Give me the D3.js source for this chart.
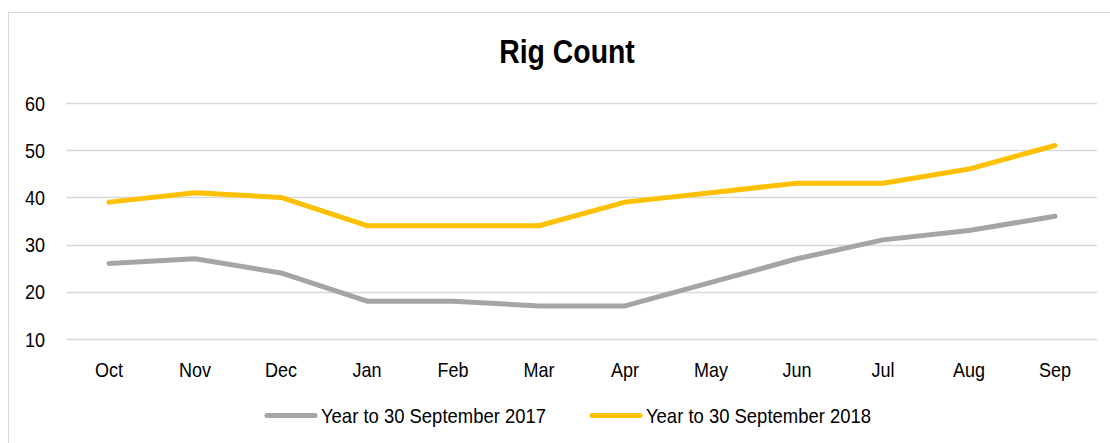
<!DOCTYPE html>
<html lang="en">
<head>
    <meta charset="UTF-8">
    <title>Rig Count</title>
    <style>
        body {
            margin: 0;
            background: #ffffff;
            font-family: 'Liberation Sans', Arial, sans-serif;
        }
        svg text {
            fill: #000;
        }
    </style>
</head>
<body>
    <div id="chart"></div>

    <script src="https://d3js.org/d3.v7.min.js"></script>
    <script>
        // Chart data
        const months = ['Oct', 'Nov', 'Dec', 'Jan', 'Feb', 'Mar', 'Apr', 'May', 'Jun', 'Jul', 'Aug', 'Sep'];
        const rigs2017 = [26, 27, 24, 18, 18, 17, 17, 22, 27, 31, 33, 36];
        const rigs2018 = [39, 41, 40, 34, 34, 34, 39, 41, 43, 43, 46, 51];
        const yTicks = [10, 20, 30, 40, 50, 60];
        const seriesNames = ['Year to 30 September 2017', 'Year to 30 September 2018'];

        const width = 1110;
        const height = 443;
        const colors = ['#a5a5a5', '#ffc000'];
        // text in the original looks horizontally squeezed
        const squeeze = 0.9;

        const svg = d3.select('#chart')
            .append('svg')
            .attr('width', width)
            .attr('height', height);

        // Chart area border
        svg.append('rect')
            .attr('x', 8.5)
            .attr('y', 12.5)
            .attr('width', width)
            .attr('height', height)
            .attr('fill', 'none')
            .attr('stroke', '#d9d9d9')
            .attr('stroke-width', 1);

        function label(x, y, str, size, anchor, bold, sx) {
            return svg.append('text')
                .attr('transform', `translate(${x},${y}) scale(${sx || squeeze},1)`)
                .attr('text-anchor', anchor)
                .attr('font-size', size + 'px')
                .attr('font-weight', bold ? 'bold' : 'normal')
                .text(str);
        }

        // Title
        label(567, 63, 'Rig Count', 33, 'middle', true, 0.86);

        // Scales
        const x = d3.scaleBand()
            .domain(months)
            .range([66, 1098])
            .padding(0);

        const y = d3.scaleLinear()
            .domain([10, 60])
            .range([339, 103]);

        const cx = m => x(m) + x.bandwidth() / 2;

        // Gridlines
        svg.append('g')
            .selectAll('line')
            .data(yTicks)
            .enter()
            .append('line')
            .attr('x1', 66)
            .attr('x2', 1097)
            .attr('y1', d => Math.round(y(d)) + 0.5)
            .attr('y2', d => Math.round(y(d)) + 0.5)
            .attr('stroke', '#d9d9d9')
            .attr('stroke-width', 1.5);

        // Y tick labels
        yTicks.forEach(t => label(45, y(t) + 7.5, t, 20, 'end'));

        // X labels
        months.forEach(m => label(cx(m), 377, m, 20, 'middle'));

        // Lines
        const line = d3.line()
            .x((d, i) => cx(months[i]))
            .y(d => y(d));

        [rigs2017, rigs2018].forEach((vals, i) => {
            svg.append('path')
                .datum(vals)
                .attr('d', line)
                .attr('fill', 'none')
                .attr('stroke', colors[i])
                .attr('stroke-width', 5)
                .attr('stroke-linejoin', 'round')
                .attr('stroke-linecap', 'round');
        });

        // Legend
        const legendX = [267, 592];
        seriesNames.forEach((name, i) => {
            svg.append('line')
                .attr('x1', legendX[i])
                .attr('x2', legendX[i] + 48)
                .attr('y1', 415.5)
                .attr('y2', 415.5)
                .attr('stroke', colors[i])
                .attr('stroke-width', 5)
                .attr('stroke-linecap', 'round');
            label(legendX[i] + 54, 422.5, name, 20.5, 'start');
        });
    </script>
</body>
</html>
